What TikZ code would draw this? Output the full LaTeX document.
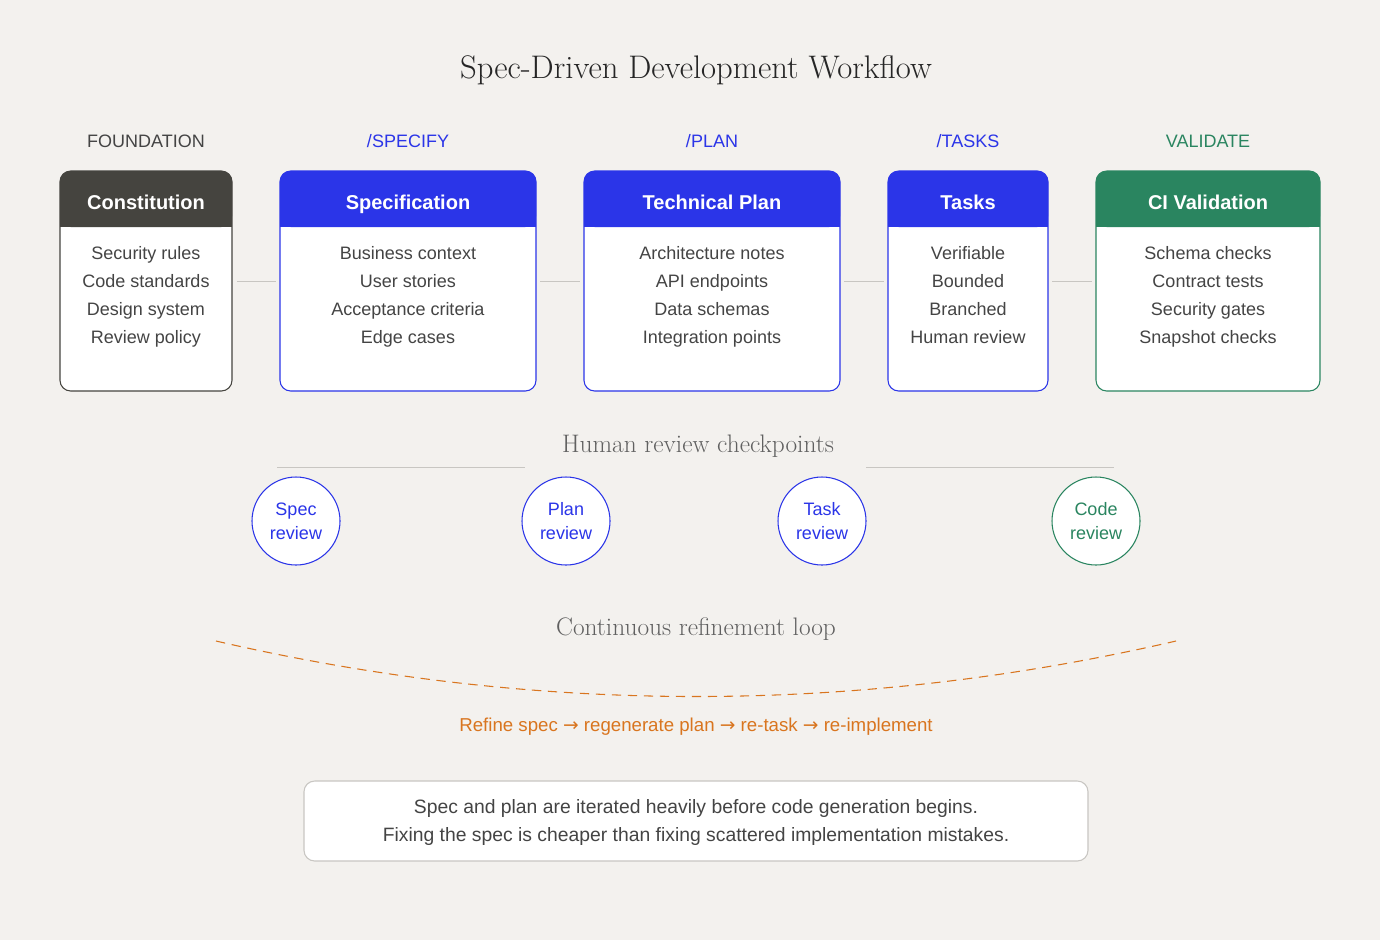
\documentclass[tikz,border=0pt]{standalone}
\usepackage{fontspec}
\setmainfont{Liberation Sans}
\newfontfamily\serifx{Latin Modern Roman}
\newfontfamily\dejavu{DejaVu Sans}
\newcommand\mysl{/}
\definecolor{bg}{HTML}{F3F1EE}
\definecolor{dark}{HTML}{45443F}
\definecolor{blu}{HTML}{2B35E8}
\definecolor{grn}{HTML}{2A8560}
\definecolor{org}{HTML}{D9751F}
\definecolor{txt}{HTML}{444444}
\definecolor{lin}{HTML}{C8C6C2}
\begin{document}
\begin{tikzpicture}[x=0.75pt,y=-0.75pt,
  body/.style={draw=#1,fill=white,rounded corners=8pt,line width=0.8pt},
  head/.style={fill=#1,rounded corners=8pt},
  htxt/.style={text=white,anchor=base,font=\fontsize{15}{18}\selectfont\bfseries},
  btxt/.style={text=txt,anchor=north,inner sep=0pt,font=\fontsize{13.5}{21}\selectfont,align=center},
  lab/.style={anchor=base,font=\fontsize{13.5}{16}\selectfont},
  circ/.style={circle,draw=#1,text=#1,fill=white,minimum size=66pt,line width=0.8pt,align=center,font=\fontsize{13.5}{18}\selectfont},
  conn/.style={draw=lin,line width=0.7pt}]
\fill[bg] (0,0) rectangle (1380,940);
\node[anchor=base,text=black!85] (title) at (696,78) {\serifx\fontsize{24.5}{28}\selectfont Spec-Driven Development Workflow};
\foreach \n/\a/\b/\c/\h/\l/\lt/\lc in {
 con/60/232/dark/Constitution/{Security rules\\Code standards\\Design system\\Review policy}/FOUNDATION/txt,
 spe/280/536/blu/Specification/{Business context\\User stories\\Acceptance criteria\\Edge cases}/\mysl SPECIFY/blu,
 pla/584/840/blu/Technical Plan/{Architecture notes\\API endpoints\\Data schemas\\Integration points}/\mysl PLAN/blu,
 tas/888/1048/blu/Tasks/{Verifiable\\Bounded\\Branched\\Human review}/\mysl TASKS/blu,
 ci/1096/1320/grn/CI Validation/{Schema checks\\Contract tests\\Security gates\\Snapshot checks}/VALIDATE/grn}{
 \draw[body=\c] (\a,171) rectangle (\b,391);
 \fill[head=\c] (\a,171) rectangle (\b,227);
 \fill[\c] (\a,210) rectangle (\b,227);
 \node[htxt] (\n h) at ({(\a+\b)/2},209) {\h};
 \node[btxt] (\n b) at ({(\a+\b)/2},240) {\strut\l};
 \node[lab,text=\lc] (\n l) at ({(\a+\b)/2},147) {\lt};
 \coordinate (\n L) at (\a,281); \coordinate (\n R) at (\b,281);
}
\draw[conn] ([xshift=4pt]conR) -- ([xshift=-3pt]speL);
\draw[conn] ([xshift=3pt]speR) -- ([xshift=-3pt]plaL);
\draw[conn] ([xshift=3pt]plaR) -- ([xshift=-3pt]tasL);
\draw[conn] ([xshift=3pt]tasR) -- ([xshift=-3pt]ciL);
\node[anchor=base,text=txt!85] (hr) at (698,452) {\serifx\fontsize{19}{22}\selectfont Human review checkpoints};
\draw[conn] (277,467) -- (525,467);
\draw[conn] (866,467) -- (1114,467);
\node[circ=blu] (c1) at (296,521) {Spec\\review};
\node[circ=blu] (c2) at (566,521) {Plan\\review};
\node[circ=blu] (c3) at (822,521) {Task\\review};
\node[circ=grn] (c4) at (1096,521) {Code\\review};
\node[anchor=base,text=txt!85] (loop) at (696,635) {\serifx\fontsize{19}{22}\selectfont Continuous refinement loop};
\coordinate (la) at (216,641); \coordinate (lb) at (1176,641);
\draw[org,dash pattern=on 7pt off 5pt,line width=0.8pt] (la) .. controls (536,715) and (856,715) .. (lb);
\node[lab,text=org,font=\fontsize{14}{16}\selectfont] (ref) at (696,731) {Refine spec {\dejavu→} regenerate plan {\dejavu→} re-task {\dejavu→} re-implement};
\draw[draw=lin,fill=white,rounded corners=8pt,line width=0.8pt] (304,781) rectangle (1088,861);
\node[btxt,font=\fontsize{14.5}{21}\selectfont,anchor=center,inner sep=2pt] (note) at (696,822) {Spec and plan are iterated heavily before code generation begins.\\Fixing the spec is cheaper than fixing scattered implementation mistakes.};
\end{tikzpicture}
\end{document}
